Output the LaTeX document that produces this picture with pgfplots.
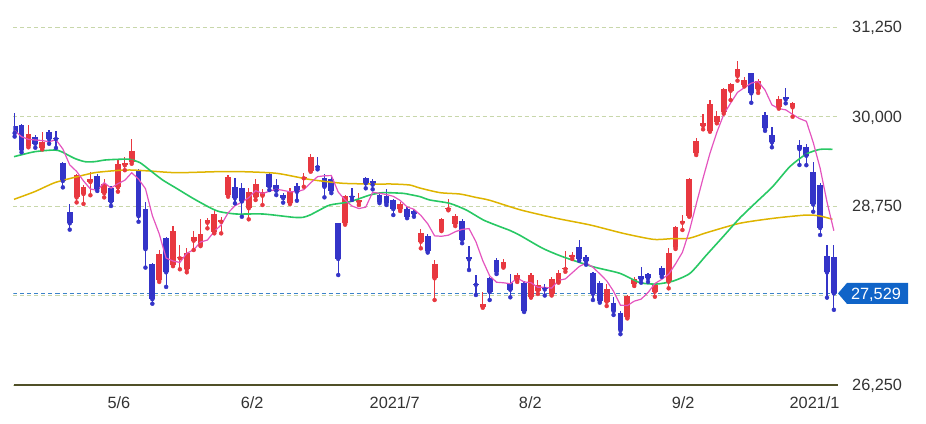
\documentclass[border=0pt]{standalone}
\usepackage{pgfplots}
\usepackage{pgfplotstable}
\usepackage{fontspec}
\setmainfont{Liberation Sans}
\pgfplotsset{compat=1.18}
\definecolor{upc}{RGB}{232,56,64}
\definecolor{dnc}{RGB}{52,52,200}
\definecolor{ma5}{RGB}{228,84,190}
\definecolor{ma25}{RGB}{40,200,100}
\definecolor{ma75}{RGB}{222,180,0}
\definecolor{gridc}{RGB}{200,215,170}
\definecolor{lblc}{RGB}{51,51,51}
\definecolor{pricec}{RGB}{16,100,200}
\definecolor{pricel}{RGB}{60,130,200}
\definecolor{axc}{RGB}{80,80,40}

\pgfplotstableread{
i O H L C
0 29870 30045 29720 29768
1 29880 29890 29500 29538
2 29592 29881 29570 29751
3 29718 29746 29564 29620
4 29555 29783 29540 29642
5 29790 29810 29620 29683
6 29700 29800 29560 29685
7 29355 29370 29010 29100
8 28666 28780 28420 28508
9 28870 29200 28800 29188
10 28918 29040 28780 29020
11 29085 29230 28900 29126
12 29173 29190 28960 28991
13 28930 29125 28870 29053
14 29000 29030 28750 28812
15 29011 29400 28950 29331
16 29318 29440 29250 29357
17 29369 29685 29340 29518
18 29243 29262 28530 28608
19 28705 28810 27890 28147
20 27940 27960 27385 27448
21 27716 28135 27690 28084
22 28307 28320 27620 27824
23 27926 28470 27910 28406
24 28020 28200 27866 28044
25 27866 28168 27824 28098
26 28265 28405 28135 28317
27 28205 28568 28190 28364
28 28517 28578 28438 28553
29 28391 28694 28368 28642
30 28530 28592 28368 28560
31 28903 29183 28880 29149
32 29020 29136 28787 28860
33 28997 29065 28600 28814
34 28718 28997 28564 28946
35 28880 29123 28834 29058
36 28894 28983 28764 28941
37 29192 29229 28973 29019
38 29043 29123 28903 28963
39 28903 28927 28797 28860
40 28787 28997 28778 28958
41 29029 29075 28824 28948
42 29137 29206 29019 29161
43 29239 29476 29229 29441
44 29310 29439 29262 29291
45 29137 29197 28871 29018
46 29123 29160 28930 28964
47 28508 28508 27786 28011
48 28508 28900 28490 28884
49 28885 28997 28834 28870
50 28800 28927 28764 28835
51 29137 29160 28997 29066
52 29104 29123 28983 29048
53 28903 28950 28790 28812
54 28889 28983 28764 28791
55 28834 28843 28624 28707
56 28704 28810 28680 28783
57 28704 28730 28580 28598
58 28685 28710 28600 28643
59 28251 28424 28159 28366
60 28331 28360 28100 28118
61 27740 27996 27437 27940
62 28415 28580 28400 28569
63 28704 28843 28690 28722
64 28500 28640 28470 28608
65 28540 28570 28230 28279
66 28033 28191 27856 28003
67 27665 27786 27507 27650
68 27343 27553 27329 27388
69 27748 27762 27437 27548
70 27996 28030 27800 27833
71 27902 28010 27890 27970
72 27679 27800 27475 27581
73 27716 27810 27690 27782
74 27670 27700 27270 27283
75 27483 27820 27470 27781
76 27567 27716 27521 27641
77 27623 27660 27500 27584
78 27521 27760 27500 27728
79 27693 27850 27680 27820
80 27870 28125 27832 27888
81 28042 28110 28010 28070
82 28181 28275 27986 28015
83 28042 28070 27930 27977
84 27810 27832 27437 27523
85 27670 27700 27400 27424
86 27413 27660 27353 27585
87 27399 27483 27228 27281
88 27251 27280 26960 27013
89 27195 27510 27180 27494
90 27660 27762 27633 27732
91 27772 27894 27679 27724
92 27800 27820 27690 27742
93 27553 27670 27483 27641
94 27880 27910 27760 27789
95 27693 28159 27600 28089
96 28173 28470 28150 28451
97 28517 28624 28415 28543
98 28610 29140 28600 29128
99 29486 29695 29462 29660
100 29870 30035 29821 29916
101 29802 30230 29787 30181
102 29927 30081 29905 30008
103 30067 30400 30040 30381
104 30360 30463 30230 30447
105 30565 30779 30500 30670
106 30440 30550 30420 30511
107 30605 30614 30192 30323
108 30380 30530 30330 30500
109 30021 30060 29800 29839
110 29742 29857 29570 29639
111 30128 30280 30110 30248
112 30277 30393 30184 30240
113 30128 30207 29997 30183
114 29602 29672 29323 29544
115 29570 29620 29320 29452
116 29229 29369 28670 28771
117 29043 29067 28345 28444
118 28052 28205 27470 27822
119 28033 28205 27300 27529
}\candles

\pgfplotstableread{
i v
0 29802
1 29718
2 29681
3 29672
4 29664
5 29647
6 29676
7 29546
8 29324
9 29233
10 29100
11 28988
12 28967
13 29076
14 29000
15 29063
16 29109
17 29214
18 29125
19 28992
20 28616
21 28361
22 28022
23 27982
24 27961
25 28091
26 28138
27 28246
28 28275
29 28395
30 28487
31 28654
32 28753
33 28805
34 28866
35 28965
36 28924
37 28956
38 28985
39 28968
40 28948
41 28950
42 28978
43 29074
44 29160
45 29172
46 29175
47 28945
48 28834
49 28750
50 28714
51 28734
52 28942
53 28927
54 28910
55 28885
56 28828
57 28738
58 28704
59 28619
60 28502
61 28333
62 28327
63 28342
64 28391
65 28423
66 28435
67 28252
68 27986
69 27774
70 27685
71 27678
72 27664
73 27743
74 27690
75 27679
76 27614
77 27614
78 27603
79 27711
80 27732
81 27818
82 27904
83 27954
84 27895
85 27802
86 27705
87 27558
88 27365
89 27359
90 27421
91 27449
92 27541
93 27667
94 27726
95 27797
96 27942
97 28103
98 28400
99 28774
100 29140
101 29486
102 29779
103 30029
104 30187
105 30337
106 30403
107 30466
108 30490
109 30369
110 30162
111 30110
112 30093
113 30030
114 29971
115 29933
116 29638
117 29279
118 28807
119 28404
}\maFive

\pgfplotstableread{
i v
-0.1 29439
2.9 29508
5.8 29532
6.8 29508
8.7 29415
10.2 29369
11.6 29369
13.1 29392
15.0 29402
16.7 29402
18.2 29355
19.6 29253
21.5 29113
23.5 28997
25.9 28857
28.4 28725
29.8 28670
32.2 28638
36.1 28638
40.5 28592
41.9 28592
42.9 28624
44.3 28694
45.8 28764
48.7 28810
51.6 28903
53.5 28936
56.4 28927
57.4 28910
58.9 28880
60.3 28834
63.2 28787
65.6 28694
68.1 28554
70.5 28461
71.9 28410
73.4 28340
76.7 28159
79.6 28042
84.0 27902
87.9 27810
90.8 27680
93.2 27660
95.6 27700
98.1 27810
100.5 28066
102.9 28321
105.3 28578
107.8 28810
110.1 29020
112.6 29299
115.0 29476
117.0 29541
118.8 29541
}\maTwentyFive

\pgfplotstableread{
i v
-0.1 28843
2.9 28950
5.8 29075
8.7 29150
11.6 29215
14.5 29243
16.7 29253
19.6 29239
23.5 29215
29.3 29229
33.2 29229
38.1 29206
42.9 29120
47.7 29067
52.6 29057
54.9 29057
57.4 29043
58.9 29000
61.8 28936
64.7 28917
67.0 28870
69.0 28830
73.5 28695
78.7 28578
83.6 28485
88.4 28368
92.8 28284
95.6 28295
98.0 28300
100.5 28377
105.3 28508
110.2 28578
115.0 28624
117.0 28610
118.8 28564
}\maSeventyFive

\begin{document}
\begin{tikzpicture}
\begin{axis}[name=ax, at={(0pt,0pt)}, anchor=south west,
  scale only axis, width=824.5pt, height=383.06pt,
  xmin=-0.17, xmax=119.6, ymin=26250, ymax=31600,
  axis line style={draw=none}, tick style={draw=none},
  scaled y ticks=false,
  ytick={26250,28750,30000,31250}, yticklabel pos=right,
  extra y ticks={27500}, extra y tick labels={},
  extra y tick style={ymajorgrids=true},
  ymajorgrids, grid style={gridc, dash pattern=on 4pt off 3pt, line width=0.8pt},
  xtick={15.15,34.5,55.2,74.9,97.1,116.2},
  xticklabels={5/6,6/2,2021/7,8/2,9/2,2021/1},
  ticklabel style={font=\fontsize{16.3}{19}\selectfont, text=lblc},
  yticklabel style={anchor=base west, inner sep=0pt, xshift=14pt, yshift=-5.8pt},
  xticklabel style={anchor=base, inner sep=0pt, yshift=-23.3pt},
  /pgf/number format/1000 sep={,},
  /pgf/number format/assume math mode=true,
]
% current price line
\addplot[pricel, dash pattern=on 4pt off 3pt, line width=0.8pt, forget plot] coordinates {(-0.17,27529) (119.6,27529)};
% wicks up
\addplot[only marks, mark=none, upc, forget plot,
  restrict expr to domain={\thisrow{C}-\thisrow{O}}{0:100000},
  error bars/.cd, y dir=plus, y explicit, error mark=none,
  error bar style={line width=1.2pt, upc}]
  table[x=i, y=L, y error expr=\thisrow{H}-\thisrow{L}] {\candles};
% wicks down
\addplot[only marks, mark=none, dnc, forget plot,
  restrict expr to domain={\thisrow{C}-\thisrow{O}}{-100000:0},
  error bars/.cd, y dir=plus, y explicit, error mark=none,
  error bar style={line width=1.2pt, dnc}]
  table[x=i, y=L, y error expr=\thisrow{H}-\thisrow{L}] {\candles};
% bodies up
\addplot[only marks, mark=none, upc, forget plot,
  restrict expr to domain={\thisrow{C}-\thisrow{O}}{0:100000},
  error bars/.cd, y dir=plus, y explicit, error mark=none,
  error bar style={line width=5.8pt, upc}]
  table[x=i, y=O, y error expr=\thisrow{C}-\thisrow{O}] {\candles};
% bodies down
\addplot[only marks, mark=none, dnc, forget plot,
  restrict expr to domain={\thisrow{C}-\thisrow{O}}{-100000:0},
  error bars/.cd, y dir=plus, y explicit, error mark=none,
  error bar style={line width=5.8pt, dnc}]
  table[x=i, y=C, y error expr=\thisrow{O}-\thisrow{C}] {\candles};
% moving averages
\addplot[ma75, line width=1.5pt, smooth, tension=0.4, mark=none] table[x=i, y=v] {\maSeventyFive};
\addplot[ma25, line width=1.6pt, smooth, tension=0.4, mark=none] table[x=i, y=v] {\maTwentyFive};
\addplot[ma5, line width=1.2pt, mark=none] table[x=i, y=v] {\maFive};
\coordinate (pl) at (axis cs:119.6,27529);
\end{axis}
\draw[axc, line width=1.5pt] (ax.south west) -- (ax.south east);
\fill[pricec] (pl) -- ++(9pt,10.5pt) -- ++(61pt,0pt) -- ++(0pt,-21pt) -- ++(-61pt,0pt) -- cycle;
\node[text=white, font=\fontsize{16.3}{19}\selectfont, anchor=base, xshift=38pt, yshift=-5.8pt] at (pl) {27,529};
\pgfresetboundingbox
\path[use as bounding box] ([shift={(-13.5pt,-38pt)}]ax.south west) rectangle ++(926pt,423pt);
\end{tikzpicture}
\end{document}
